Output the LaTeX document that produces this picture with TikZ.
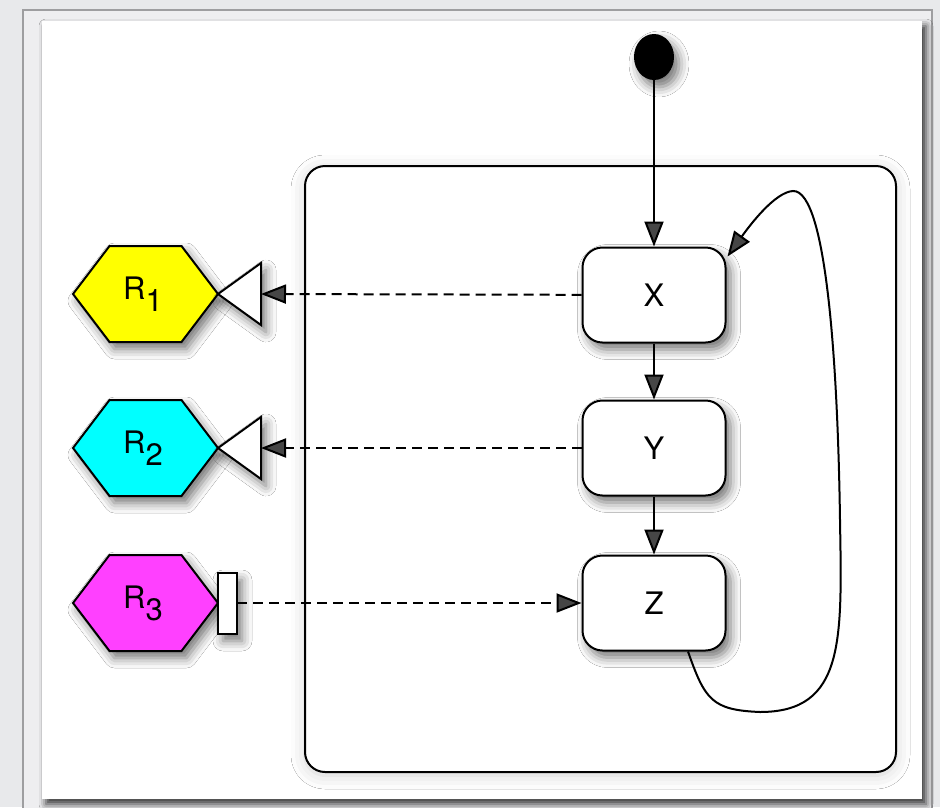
\documentclass[tikz,border=0pt]{standalone}
\usepackage{fontspec}
\setmainfont{TeX Gyre Heros}
\usetikzlibrary{shadows.blur,arrows.meta,calc,shapes.geometric}
\definecolor{pagebg}{RGB}{232,233,235}
\definecolor{framebg}{RGB}{238,238,240}
\definecolor{frameline}{RGB}{158,158,160}
\definecolor{rone}{RGB}{255,255,0}
\definecolor{rtwo}{RGB}{0,255,255}
\definecolor{rthree}{RGB}{255,64,255}
\begin{document}
\begin{tikzpicture}[x=1pt,y=-1pt,
  every node/.style={font=\fontsize{31}{37}\selectfont},
  softshadow/.style={blur shadow={shadow xshift=5pt,shadow yshift=-7pt,shadow blur radius=10pt,shadow opacity=55}},
  state/.style={draw,line width=2pt,fill=white,rounded corners=20pt,minimum width=143pt,minimum height=95pt,inner sep=0pt,softshadow},
  container/.style={draw,line width=2pt,fill=white,rounded corners=20pt,minimum width=591pt,minimum height=606pt,inner sep=0pt,
    blur shadow={shadow xshift=0pt,shadow yshift=-3pt,shadow blur radius=14pt,shadow opacity=18}},
  hexa/.style={draw,line width=2pt,line join=miter,softshadow},
  marker/.style={draw,line width=2pt,fill=white,softshadow},
  flow/.style={line width=2pt,-{Triangle[length=25pt,width=19pt]}},
  dep/.style={flow,dash pattern=on 10pt off 6pt},
  rlabel/.style={inner sep=0pt},
]
\useasboundingbox (0,0) rectangle (940,807);
\clip (0,0) rectangle (940,807);

% page and framed panel
\fill[pagebg] (0,0) rectangle (940,807);
\draw[frameline,line width=2pt,fill=framebg] (23,10) rectangle (932,840);
\fill[white,blur shadow={shadow xshift=4pt,shadow yshift=-5pt,shadow blur radius=7pt,shadow opacity=80}] (42,21) rectangle (922,799);

% enclosing state
\node[container] (box) at (600.5,469) {};

% initial pseudo state and the three states
\node[ellipse,fill=black,minimum width=40pt,minimum height=46pt,inner sep=0pt,softshadow] (start) at (654,57) {};
\node[state] (X) at (654,295) {X};
\node[state] (Y) at (654,448) {Y};
\node[state] (Z) at (654,603) {Z};

% resources
\filldraw[hexa,fill=rone]   (73,294) -- (109.5,246) -- (181.5,246) -- (218,294) -- (181.5,342) -- (109.5,342) -- cycle;
\filldraw[hexa,fill=rtwo]   (73,448) -- (109.5,400) -- (181.5,400) -- (218,448) -- (181.5,496) -- (109.5,496) -- cycle;
\filldraw[hexa,fill=rthree] (73,603) -- (109.5,555) -- (181.5,555) -- (218,603) -- (181.5,651) -- (109.5,651) -- cycle;
\node[rlabel] (r1) at (143,294) {R\raisebox{-12pt}{1}};
\node[rlabel] (r2) at (143,448) {R\raisebox{-12pt}{2}};
\node[rlabel] (r3) at (143,603) {R\raisebox{-12pt}{3}};

% ports on the resources
\filldraw[marker] (218,294) -- (261,263) -- (261,325) -- cycle;
\filldraw[marker] (218,448) -- (261,417) -- (261,479) -- cycle;
\filldraw[marker] (218,573) rectangle (237,634);
\coordinate (t1) at (261,294);
\coordinate (t2) at (261,448);
\coordinate (b3) at (237,603);

% transitions
\draw[flow] (start) -- (X);
\draw[flow] (X) -- (Y);
\draw[flow] (Y) -- (Z);
\draw[flow] ([xshift=34pt]Z.south) .. controls (705,700) and (712,710) .. (760,712)
  .. controls (845,712) and (842,640) .. (840,520)
  .. controls (838,380) and (828,190) .. (793,191)
  .. controls (775,192) and (750,225) .. ([xshift=1pt,yshift=-10pt]X.north east);

% dependencies
\draw[dep] (X) -- (t1);
\draw[dep] (Y) -- (t2);
\draw[dep] (b3) -- (Z);
\end{tikzpicture}
\end{document}
